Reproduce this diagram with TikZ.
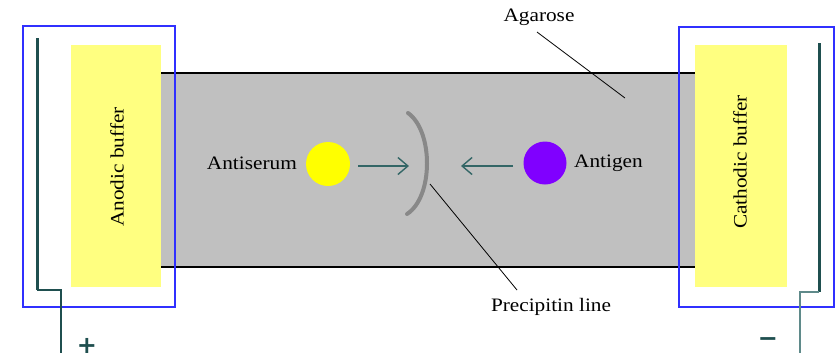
\documentclass[tikz,border=0pt]{standalone}
\usepackage{graphicx}
\usepackage{fontspec}
\setmainfont{Liberation Serif}
\newfontfamily\symfont{DejaVu Sans}
\usetikzlibrary{arrows.meta}
\definecolor{bufyellow}{HTML}{FFFF80}
\definecolor{gelgray}{HTML}{C0C0C0}
\definecolor{boxblue}{HTML}{3030FF}
\definecolor{electrode}{HTML}{1F4F4F}
\definecolor{electrodelight}{HTML}{5F8A8A}
\definecolor{arrowteal}{HTML}{336666}
\definecolor{arcgray}{HTML}{888888}
\definecolor{serumyellow}{HTML}{FFFF00}
\definecolor{genpurple}{HTML}{8000FF}
\tikzset{
  lbl/.style={inner sep=0pt, font=\fontsize{19}{21}\selectfont},
  bufbox/.style={fill=bufyellow, draw=none},
  tank/.style={draw=boxblue, line width=1.5pt},
  elec/.style={draw=electrode, line width=3pt},
  elecwire/.style={draw=electrode, line width=2pt},
  leader/.style={draw=black, line width=0.8pt},
  migr/.style={draw=arrowteal, line width=1.2pt, -{Straight Barb[length=10pt,width=17pt,line width=1.4pt]}},
  dot/.style={circle, minimum size=44pt, inner sep=0pt, draw=none},
  pole/.style={inner sep=0pt, text=electrode, font=\symfont\bfseries\fontsize{24}{24}\selectfont},
}
\newcommand{\wide}[1]{\scalebox{1.12}[1]{#1}}
\begin{document}
\begin{tikzpicture}[x=1pt,y=-1pt]
\useasboundingbox (0,0) rectangle (836,360);
% gel
\fill[gelgray] (161,73) rectangle (695,267);
\draw[line width=2.8pt] (161,73) -- (695,73);
\draw[line width=2.8pt] (161,267) -- (695,267);
% buffers
\node[bufbox, minimum width=90pt, minimum height=242pt, inner sep=0pt] (anbuf) at (116,166) {};
\node[bufbox, minimum width=92pt, minimum height=242pt, inner sep=0pt] (catbuf) at (741,166) {};
\node[lbl, rotate=90] (antxt) at (117,167) {\wide{Anodic buffer}};
\node[lbl, rotate=90] (cattxt) at (740,162) {\wide{Cathodic buffer}};
% tanks
\draw[tank] (23,26) rectangle (175,307);
\draw[tank] (679,27) rectangle (834,307);
% electrodes
\coordinate (le1) at (37,38);
\coordinate (le2) at (37,290);
\coordinate (le3) at (61,290);
\coordinate (le4) at (61,353);
\draw[elec] (le1) -- (le2);
\draw[elecwire] (le2) -- (le3) -- (le4);
\coordinate (re1) at (819,43);
\coordinate (re2) at (819,292);
\coordinate (re3) at (800,292);
\coordinate (re4) at (800,353);
\draw[elec] (re1) -- (re2);
\draw[elecwire, draw=electrodelight] (re2) -- (re3) -- (re4);
\node[pole] (plus) at (87,346) {+};
\node[pole] (minus) at (768,342) {−};
% wells
\node[dot, fill=serumyellow] (serum) at (328,164) {};
\node[dot, fill=genpurple, minimum size=43pt] (gen) at (545,163) {};
\node[lbl, anchor=east] (serumtxt) at (297,163) {\wide{Antiserum}};
\node[lbl, anchor=west] (gentxt) at (574,163) {\wide{Antigen}};
% migration arrows
\coordinate (a1s) at (358,166);
\coordinate (a1e) at (409,166);
\coordinate (a2s) at (513,166);
\coordinate (a2e) at (461,166);
\draw[migr] (a1s) -- (a1e);
\draw[migr] (a2s) -- (a2e);
% precipitin arc
\draw[arcgray, line width=4pt, line cap=round] (408,113) .. controls (433.5,131) and (433.5,197) .. (407,214);
% labels and leaders
\node[lbl] (agar) at (539,17) {\wide{Agarose}};
\coordinate (agl1) at (537,32);
\coordinate (agl2) at (625,98);
\draw[leader] (agl1) -- (agl2);
\node[lbl] (prec) at (551,307) {\wide{Precipitin line}};
\coordinate (pl1) at (430,184);
\coordinate (pl2) at (517,290);
\draw[leader] (pl1) -- (pl2);
\end{tikzpicture}
\end{document}
